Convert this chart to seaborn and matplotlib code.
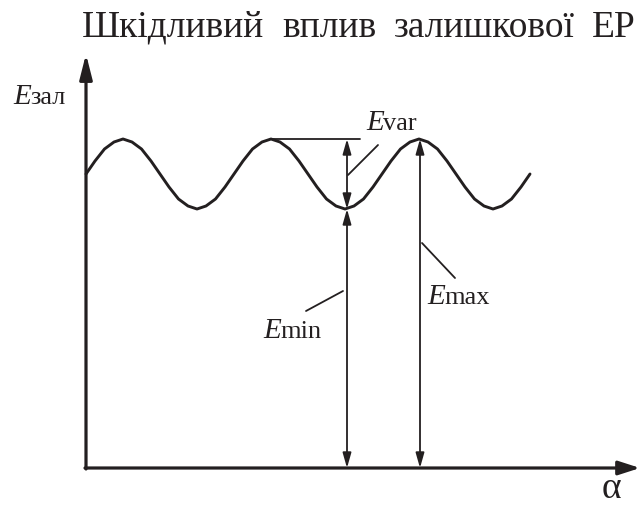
import numpy as np
import pandas as pd
import matplotlib
matplotlib.use("Agg")
import matplotlib.pyplot as plt
import seaborn as sns

# ---- data (alpha and E in picture units) ----
alpha = [0, 9, 18.5, 28, 37, 46, 55.5, 65, 74, 83, 92.5, 102, 111, 120, 129.5, 139,
         148, 157, 166.5, 176, 185, 194, 203.5, 213, 222, 231, 240.5, 250, 259, 268, 277.5, 287,
         296, 305, 314.5, 324, 333, 342, 351.5, 361, 370, 379, 388.5, 398, 407, 416, 425.5, 435, 444]
E_res = [294, 307, 319, 326, 329, 326, 319, 307, 294, 281, 269, 262, 259, 262, 269, 281,
         294, 307, 319, 326, 329, 326, 319, 307, 294, 281, 269, 262, 259, 262, 269, 281,
         294, 307, 319, 326, 329, 326, 319, 307, 294, 281, 269, 262, 259, 262, 269, 281, 294]

E_max = 329
E_min = 259
alpha_min = 261      # trough used for E_min / E_var
alpha_max = 334      # peak used for E_max
alpha_peak_left = 186
alpha_axis_end = 554
E_axis_end = 414

title_words = ["Шкідливий", "вплив", "залишкової", "ЕР"]
ylabel = ("E", "зал")
xlabel = "α"
lab_var = ("E", "var")
lab_min = ("E", "min")
lab_max = ("E", "max")

C = "#231f20"

sns.set_theme(style="white")
plt.rcParams["font.family"] = ["Liberation Serif", "DejaVu Serif"]

fig = plt.figure(figsize=(6.4, 5.07), dpi=100)
ax = fig.add_axes([0, 0, 1, 1])
ax.set_xlim(-86, 554)
ax.set_ylim(-39, 468)
ax.axis("off")

# curve
df = pd.DataFrame({"alpha": alpha, "E": E_res})
sns.lineplot(data=df, x="alpha", y="E", ax=ax, color=C, lw=2.1, sort=False)

# axes with arrows
ax.annotate("", xy=(0, E_axis_end), xytext=(0, -1),
            arrowprops=dict(arrowstyle="-|>,head_length=0.75,head_width=0.19",
                            mutation_scale=20, lw=2.3, color=C, shrinkA=0, shrinkB=0))
ax.annotate("", xy=(alpha_axis_end, 0), xytext=(-1, 0),
            arrowprops=dict(arrowstyle="-|>,head_length=0.65,head_width=0.21",
                            mutation_scale=20, lw=2.3, color=C, shrinkA=0, shrinkB=0))

dbl = dict(arrowstyle="<|-|>,head_length=0.6,head_width=0.17", mutation_scale=15,
           lw=1.3, color=C, shrinkA=0, shrinkB=0)
ax.annotate("", xy=(alpha_min, E_max), xytext=(alpha_min, E_min), arrowprops=dbl)
ax.annotate("", xy=(alpha_min, E_min), xytext=(alpha_min, 0), arrowprops=dbl)
ax.annotate("", xy=(alpha_max, E_max), xytext=(alpha_max, 0), arrowprops=dbl)

# horizontal reference line at the peak
ax.plot([alpha_peak_left, 274], [E_max, E_max], color=C, lw=1.3)

# leader lines
ax.plot([262, 292], [293, 323], color=C, lw=1.3)
ax.plot([220, 257], [157, 177], color=C, lw=1.3)
ax.plot([336, 369], [225, 190], color=C, lw=1.3)

def elabel(x, y, parts):
    ax.text(x, y, parts[0], fontsize=21, style="italic", color=C, va="baseline", ha="left")
    ax.text(x + 17, y, parts[1], fontsize=19, color=C, va="baseline", ha="left")

elabel(366 - 86, 468 - 130, lab_var)
elabel(263 - 86, 468 - 338, lab_min)
elabel(427 - 86, 468 - 304, lab_max)
elabel(13 - 86, 468 - 104, ylabel)

ax.text(602 - 86, 468 - 498, xlabel, fontsize=27, color=C, va="baseline", ha="left")

# title: words spread from x=82 px to x=636 px
renderer = fig.canvas.get_renderer()
tx = [ax.text(0, 468 - 37, w, fontsize=27, color=C, va="baseline", ha="left")
      for w in title_words]
widths = [t.get_window_extent(renderer).width for t in tx]
gap = (636 - 82 - sum(widths)) / (len(tx) - 1)
x0 = 82
for t, w in zip(tx, widths):
    t.set_x(x0 - 86)
    x0 += w + gap

fig.savefig("out.png", dpi=100)
